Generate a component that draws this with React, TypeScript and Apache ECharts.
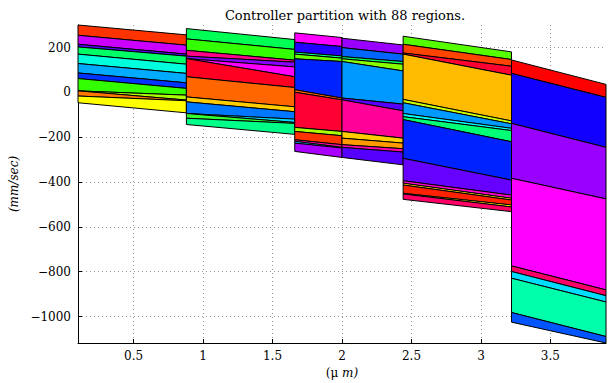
import React, { useEffect, useRef } from "react";
import * as echarts from "echarts";

// x boundaries of the vertical strips
const stripEdges = [0.1, 0.88, 1.66, 2.0, 2.44, 3.22, 3.9];

// Boundary lines of each strip (value at left edge / right edge), top to bottom
const strip1Left = [301, 255, 215, 203, 171, 129, 87, 62, 7, 7, -16, -46];
const strip1Right = [257, 211, 171, 162, 126, 85, 43, 18, -12, -34, -37, -91];
const strip1Colors = ["#FF3300", "#CC00FF", "#5500FF", "#00FF66", "#00FFDD", "#00AAFF", "#0033FF", "#33FF00", "#AAFF00", "#FF7700", "#FFFF00"];

const strip2Left = [285, 239, 188, 162, 151, 151, 70, -20, -42, -94, -94, -115, -143];
const strip2Right = [236, 192, 144, 135, 114, 70, 22, -64, -86, -119, -134, -138, -187];
const strip2Colors = ["#00FF55", "#33FF00", "#FF0088", "#8800FF", "#FF00FF", "#FF0022", "#FF6600", "#FFCC00", "#0077FF", "#00DDFF", "#33FF33", "#00FF88"];

const strip3Left = [266, 224, 180, 171, 150, 12, 1, -156, -174, -211, -218, -226, -263];
const strip3Right = [245, 205, 163, 153, 138, -25, -33, -174, -193, -233, -245, -248, -290];
const strip3Colors = ["#FF00FF", "#2200FF", "#00FF88", "#66FF00", "#0022FF", "#FF6600", "#FF0033", "#AAFF00", "#FF3300", "#FF0099", "#00CCFF", "#AA00FF"];

const strip4Left = [242, 200, 160, 150, 138, -25, -33, -174, -204, -233, -245, -290];
const strip4Right = [212, 171, 138, 126, 96, -52, -82, -204, -226, -251, -266, -323];
const strip4Colors = ["#9900FF", "#0066FF", "#00FF66", "#88FF00", "#0099FF", "#5500FF", "#FF0099", "#FFCC00", "#FF9900", "#FF00AA", "#5500FF"];

const strip5Left = [251, 215, 176, 171, -31, -46, -94, -108, -121, -294, -394, -405, -413, -450, -453, -477];
const strip5Right = [181, 147, 117, 77, -127, -140, -160, -170, -220, -391, -458, -472, -480, -502, -511, -532];
const strip5Colors = ["#55FF00", "#FF4400", "#FF0033", "#FFBB00", "#CCFF00", "#0099FF", "#00FFFF", "#00FF77", "#0022FF", "#6600FF", "#FF00CC", "#FFDD00", "#FF2200", "#FFEE00", "#FF0066"];

const strip6Left = [145, 85, -138, -383, -774, -799, -829, -982, -1025];
const strip6Right = [36, -22, -245, -475, -881, -907, -935, -1089, -1118];
const strip6Colors = ["#FF0000", "#1100FF", "#9900FF", "#FF00FF", "#FF0066", "#00DDFF", "#00FFAA", "#0055FF"];

const xTicks = [0.5, 1, 1.5, 2, 2.5, 3, 3.5];
const yTicks = [-1000, -800, -600, -400, -200, 0, 200];
const xMin = 0.1;
const xMax = 3.9;
const yMin = -1118;
const yMax = 301;

const titleText = "Controller partition with 88 regions.";

const strips = [
  [strip1Left, strip1Right, strip1Colors],
  [strip2Left, strip2Right, strip2Colors],
  [strip3Left, strip3Right, strip3Colors],
  [strip4Left, strip4Right, strip4Colors],
  [strip5Left, strip5Right, strip5Colors],
  [strip6Left, strip6Right, strip6Colors],
] as [number[], number[], string[]][];

function buildRegions() {
  const out: any[] = [];
  strips.forEach(([L, R, C], s) => {
    const x0 = stripEdges[s];
    const x1 = stripEdges[s + 1];
    for (let i = 0; i < C.length; i++) {
      out.push({
        value: [x0, x1, L[i], R[i], L[i + 1], R[i + 1]],
        itemStyle: { color: C[i] },
      });
    }
  });
  return out;
}

const FONT = "'DejaVu Serif', 'Liberation Serif', serif";

export default function App() {
  const ref = useRef<HTMLDivElement>(null);
  useEffect(() => {
    if (!ref.current) return;
    const chart = echarts.init(ref.current, null, { renderer: "svg" });
    chart.setOption({
      animation: false,
      backgroundColor: "#fff",
      title: {
        text: titleText,
        left: 340,
        textAlign: "center",
        top: 4,
        textStyle: { fontFamily: FONT, fontSize: 13, fontWeight: "normal", color: "#000" },
      },
      grid: { left: 78, right: 6, top: 25, bottom: 40, containLabel: false, outerBoundsMode: "none" },
      xAxis: {
        type: "value",
        min: xMin,
        max: xMax,
        name: "{a|(μ }{b|m)}",
        nameLocation: "middle",
        nameGap: 11,
        nameTextStyle: {
          rich: {
            a: { fontFamily: FONT, fontSize: 12, color: "#000" },
            b: { fontFamily: FONT, fontSize: 12, fontStyle: "italic", color: "#000" },
          },
        },
        axisLine: { show: true, onZero: false, lineStyle: { color: "#000", width: 1 } },
        axisTick: { show: true, inside: true, length: 4, customValues: xTicks, lineStyle: { color: "#000" } },
        axisLabel: {
          customValues: xTicks,
          margin: 7,
          fontFamily: FONT,
          fontSize: 12,
          color: "#000",
          formatter: (v: number) => String(v),
        },
        splitLine: { show: true, lineStyle: { color: "#999", type: [1, 3], width: 1 } },
      },
      yAxis: {
        type: "value",
        min: yMin,
        max: yMax,
        name: "(mm/sec)",
        nameLocation: "middle",
        nameGap: 54,
        nameRotate: 90,
        nameTextStyle: { fontFamily: FONT, fontSize: 12, fontStyle: "italic", color: "#000" },
        axisLine: { show: true, onZero: false, lineStyle: { color: "#000", width: 1 } },
        axisTick: { show: true, inside: true, length: 4, customValues: yTicks, lineStyle: { color: "#000" } },
        axisLabel: {
          customValues: yTicks,
          margin: 7,
          fontFamily: FONT,
          fontSize: 12,
          color: "#000",
          formatter: (v: number) => (v < 0 ? "\u2212" + Math.abs(v) : String(v)),
        },
        splitLine: { show: true, lineStyle: { color: "#999", type: [1, 3], width: 1 } },
      },
      series: [
        {
          type: "custom",
          encode: { x: [0, 1], y: [2, 3, 4, 5] },
          data: buildRegions(),
          renderItem: (params: any, api: any) => {
            const x0 = api.value(0);
            const x1 = api.value(1);
            const pts = [
              api.coord([x0, api.value(2)]),
              api.coord([x1, api.value(3)]),
              api.coord([x1, api.value(5)]),
              api.coord([x0, api.value(4)]),
            ];
            return {
              type: "polygon",
              shape: { points: pts },
              style: { fill: api.visual("color"), stroke: "#000", lineWidth: 1 },
            };
          },
        },
      ],
    });
    return () => chart.dispose();
  }, []);
  return (
    <div
      ref={ref}
      style={{ position: "fixed", left: 0, top: 0, width: 612, height: 383, background: "#fff" }}
    />
  );
}
